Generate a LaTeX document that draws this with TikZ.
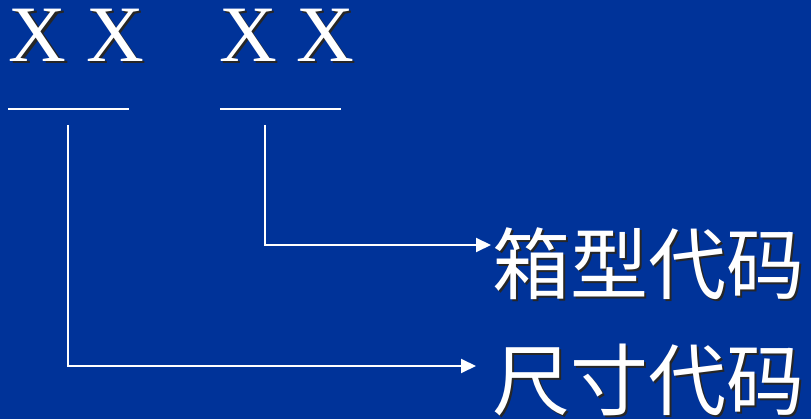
\documentclass[tikz,border=0pt]{standalone}
\usepackage{fontspec}
\setmainfont{Liberation Serif}
\newfontfamily\cjk{Noto Sans CJK SC}
\usetikzlibrary{arrows.meta}
\definecolor{bgblue}{RGB}{0,51,153}
\newcommand{\shtxt}[1]{\rlap{\hspace{2pt}\raisebox{-2pt}{\textcolor{black!85}{#1}}}#1}
\begin{document}
\begin{tikzpicture}[x=1pt,y=-1pt,
  txt/.style={text=white,inner sep=0pt,outer sep=0pt},
  xfont/.style={font=\fontsize{80}{80}\selectfont},
  cfont/.style={font=\cjk\fontsize{78}{78}\selectfont},
  wline/.style={draw=white,line width=2pt},
  conn/.style={draw=white,line width=2pt,-{Triangle[length=15pt,width=14pt]}}]
\fill[bgblue] (0,0) rectangle (811,419);
\useasboundingbox (0,0) rectangle (811,419);
% X X groups
\node[txt,xfont,anchor=base west] (x1) at (9,62) {\shtxt{X X}};
\node[txt,xfont,anchor=base west] (x2) at (219,62) {\shtxt{X X}};
% underlines
\coordinate (u1a) at (8,109); \coordinate (u1b) at (129,109);
\coordinate (u2a) at (220,109); \coordinate (u2b) at (341,109);
\draw[wline] (u1a) -- (u1b);
\draw[wline] (u2a) -- (u2b);
% labels
\node[txt,cfont,anchor=west] (l1) at (492,265) {\shtxt{箱型代码}};
\node[txt,cfont,anchor=west] (l2) at (492,381) {\shtxt{尺寸代码}};
% connectors
\coordinate (c1) at (265,125); \coordinate (t1) at (491,245);
\coordinate (c2) at (68,125); \coordinate (t2) at (476,366);
\draw[conn] (c1) |- (t1);
\draw[conn] (c2) |- (t2);
\end{tikzpicture}
\end{document}
